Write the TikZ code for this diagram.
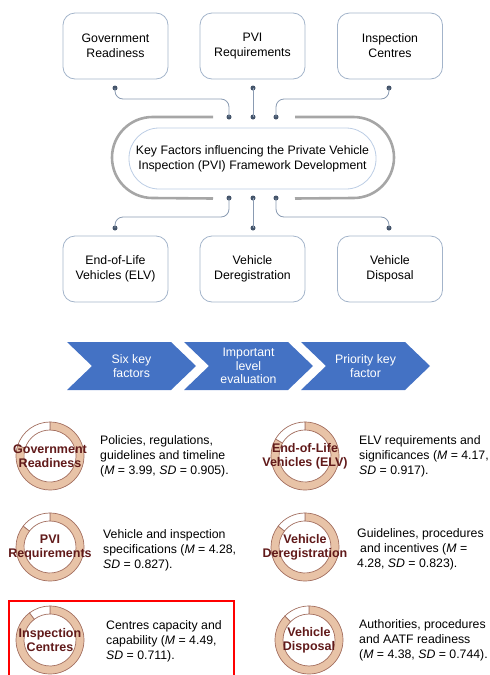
\documentclass[tikz,border=0pt]{standalone}
\usepackage{fontspec}
\setmainfont{Liberation Sans}
\usepackage{xcolor}
\usepackage{tikz}
\usetikzlibrary{arrows.meta}

\definecolor{boxline}{HTML}{A3B4CA}
\definecolor{hubline}{HTML}{BCCDE4}
\definecolor{haloc}{HTML}{A6A6A6}
\definecolor{dotc}{HTML}{44546A}
\definecolor{linkc}{HTML}{8A9BB2}
\definecolor{chev}{HTML}{4472C4}
\definecolor{tan}{HTML}{E8C3A7}
\definecolor{ringline}{HTML}{A36F60}
\definecolor{maroon}{HTML}{611A1A}

\tikzset{
  txt/.style={font=\fontsize{12.3}{15}\selectfont},
  factor/.style={txt, draw=boxline, line width=0.8pt, rounded corners=12pt,
    minimum width=105pt, minimum height=66pt, align=center, inner sep=0pt},
  hub/.style={txt, draw=hubline, line width=0.8pt, rounded corners=30pt,
    minimum width=247pt, minimum height=61pt, align=center, inner sep=0pt},
  dot/.style={circle, fill=dotc, inner sep=0pt, minimum size=5pt},
  link/.style={draw=linkc, line width=0.8pt, rounded corners=8pt},
  halo/.style={draw=haloc, line width=2.6pt},
  chevtext/.style={text=white, font=\fontsize{12.3}{13.5}\selectfont, align=center},
  ringlabel/.style={text=maroon, font=\bfseries\fontsize{12.5}{14}\selectfont, align=center, inner sep=0pt},
  note/.style={txt, anchor=west, align=left, inner sep=0pt},
}

% ring chart: centre, white span (deg), node name, label
\newcommand{\donut}[4]{%
  \begin{scope}[shift={(#1)}]
    \filldraw[fill=tan, draw=ringline, line width=0.7pt]
      (90:34) arc[start angle=90, end angle=#2-270, radius=34]
      -- (#2-270:26) arc[start angle=#2-270, end angle=90, radius=26] -- cycle;
    \filldraw[fill=white, draw=ringline, line width=0.7pt]
      (90:34) arc[start angle=90, end angle=90+#2, radius=34]
      -- (90+#2:26) arc[start angle=90+#2, end angle=90, radius=26] -- cycle;
  \end{scope}
  \node[ringlabel] (#3) at (#1) {#4};
}

\begin{document}
\begin{tikzpicture}[x=1pt, y=1pt]
\useasboundingbox (0,0) rectangle (490,-675);

% factor boxes
\node[factor] (gov)   at (115.5,-46)  {Government\\Readiness};
\node[factor] (req)   at (252.5,-46)  {PVI\\Requirements};
\node[factor] (cen)   at (390,-46)    {Inspection\\Centres};
\node[factor] (elv)   at (115.5,-269) {End-of-Life\\Vehicles (ELV)};
\node[factor] (dereg) at (252.5,-269) {Vehicle\\Deregistration};
\node[factor] (disp)  at (390,-269)   {Vehicle\\Disposal};

% centre
\draw[halo] (213,-117) -- (152.5,-117) arc[start angle=90, end angle=270, radius=40.5] -- (213,-198.5);
\draw[halo] (295,-117) -- (353.5,-117) arc[start angle=90, end angle=-90, radius=40.5] -- (295,-198.5);
\node[hub] (hub) at (252.5,-158.5) {Key Factors influencing the Private Vehicle\\Inspection (PVI) Framework Development};

% dots
\node[dot] (ta) at (115,-88) {};
\node[dot] (tb) at (253,-88) {};
\node[dot] (tc) at (389,-88) {};
\node[dot] (ha) at (229,-117) {};
\node[dot] (hb) at (253,-117) {};
\node[dot] (hc) at (276,-117) {};
\node[dot] (la) at (229,-198) {};
\node[dot] (lb) at (253,-198) {};
\node[dot] (lc) at (276,-198) {};
\node[dot] (ba) at (115,-228) {};
\node[dot] (bb) at (253,-228) {};
\node[dot] (bc) at (389,-228) {};

\draw[link] (ta.center) -- ++(0,-11) -| (ha.center);
\draw[link] (tb.center) -- (hb.center);
\draw[link] (tc.center) -- ++(0,-11) -| (hc.center);
\draw[link] (la.center) -- ++(0,-19) -| (ba.center);
\draw[link] (lb.center) -- (bb.center);
\draw[link] (lc.center) -- ++(0,-19) -| (bc.center);

% process chevrons
\foreach \x/\lbl/\name in {67/{Six key\\factors}/six, 184/{Important\\level\\evaluation}/lev, 301/{Priority key\\factor}/pri}{
  \fill[chev] (\x,-342) -- ++(104,0) -- ++(25,-24) -- ++(-25,-24) -- ++(-104,0) -- ++(25,24) -- cycle;
  \node[chevtext] (\name) at (\x+64.5,-366) {\lbl};
}

% ring charts
\donut{50,-456}{72}{rgov}{Government\\Readiness}
\donut{305,-456}{60}{relv}{End-of-Life\\Vehicles (ELV)}
\donut{50,-547}{52}{rreq}{PVI\\Requirements}
\donut{305,-547}{52}{rdereg}{Vehicle\\Deregistration}
\donut{50,-640}{37}{rcen}{Inspection\\Centres}
\donut{309,-640}{45}{rdisp}{Vehicle\\Disposal}

\node[note] (ngov)   at (100,-456.5) {Policies, regulations,\\guidelines and timeline\\(\textit{M} = 3.99, \textit{SD} = 0.905).};
\node[note] (nelv)   at (359,-456)   {ELV requirements and\\significances (\textit{M} = 4.17,\\\textit{SD} = 0.917).};
\node[note] (nreq)   at (103,-550)   {Vehicle and inspection\\specifications (\textit{M} = 4.28,\\\textit{SD} = 0.827).};
\node[note] (ndereg) at (357,-549)   {Guidelines, procedures\\\hspace*{3pt}and incentives (\textit{M} =\\4.28, \textit{SD} = 0.823).};
\node[note] (ncen)   at (106,-641.5) {Centres capacity and\\capability (\textit{M} = 4.49,\\\textit{SD} = 0.711).};
\node[note] (ndisp)  at (359,-640)   {Authorities, procedures\\and AATF readiness\\(\textit{M} = 4.38, \textit{SD} = 0.744).};

% highlight
\draw[red, line width=2pt] (9,-690) -- (9,-601) -- (234,-601) -- (234,-690);
\end{tikzpicture}
\end{document}
